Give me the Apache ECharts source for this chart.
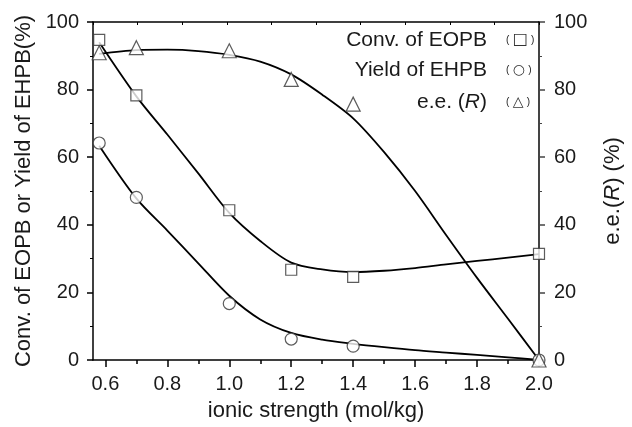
<!DOCTYPE html>
<html>
<head>
<meta charset="utf-8">
<script src="https://cdn.jsdelivr.net/npm/echarts@6/dist/echarts.min.js"></script>
<style>
  html, body { margin: 0; padding: 0; background: #fff; }
  #chart { width: 632px; height: 427px; }
</style>
</head>
<body>
<div id="chart"></div>
<script>
// measured points
const xPts = [0.58, 0.7, 1.0, 1.2, 1.4, 2.0]
const convPts = [94.7, 78.3, 44.3, 26.7, 24.6, 31.4]
const yieldPts = [64.2, 48.1, 16.7, 6.2, 4.1, 0]
const eePts = [90.9, 92.4, 91.5, 83.0, 75.7, 0]

// fitted curves
const fitX = [0.58, 0.7, 0.8, 0.9, 1.0, 1.1, 1.2, 1.3, 1.4, 1.5, 1.6, 1.7, 1.8, 1.9, 2.0]
const convFit = [94, 78, 66.7, 55.2, 43.5, 35.2, 28.8, 26.8, 26, 26.4, 27.2, 28.3, 29.3, 30.3, 31.3]
const yieldFit = [63.4, 47.8, 38.3, 28.6, 19, 12, 8, 6, 4.8, 3.8, 2.9, 2.2, 1.5, 0.8, 0]
const eeFit = [90.6, 91.7, 91.8, 91.4, 90.3, 88.3, 84.5, 78.5, 71.5, 61.5, 50, 37, 24.3, 12.2, 0]

const xLabels = [0.6, 0.8, 1.0, 1.2, 1.4, 1.6, 1.8, 2.0]
const xMinor = [0.7, 0.9, 1.1, 1.3, 1.5, 1.7, 1.9]

const font = 'Liberation Sans, Arial, Helvetica, sans-serif'
const ink = '#1a1a1a'

let pairs = (xs, ys) => xs.map((x, i) => [x, ys[i]])

let chart = echarts.init(document.getElementById('chart'))

let legendSymbol = (sym, size, top) => ({
  type: 'text', left: 506, top: top,
  style: {
    text: '{p|(} {s|' + sym + '} {p|)}',
    rich: {
      p: { fontSize: 10, fontFamily: font, fill: ink },
      s: { fontSize: size, fontFamily: 'DejaVu Sans', fill: '#333' }
    }
  }
})

let option = {
  animation: false,
  grid: { left: 93, right: 80, top: 22, bottom: 64 },
  textStyle: { fontFamily: font },
  xAxis: [
    {
      type: 'value',
      position: 'bottom',
      min: 0.56,
      max: 2.0,
      name: 'ionic strength (mol/kg)',
      nameLocation: 'middle',
      nameGap: 40,
      nameTextStyle: { fontSize: 22, color: ink, fontFamily: font },
      axisLine: { show: true, lineStyle: { color: '#000', width: 1.5 } },
      axisTick: { show: true, inside: false, length: 7, customValues: xLabels, lineStyle: { color: '#000', width: 1.5 } },
      axisLabel: {
        show: true, margin: 14, fontSize: 20, color: ink, fontFamily: font,
        customValues: xLabels,
        formatter: v => v.toFixed(1)
      },
      splitLine: { show: false }
    },
    {
      // minor ticks on the bottom axis
      type: 'value',
      position: 'bottom',
      min: 0.56,
      max: 2.0,
      axisLine: { show: false },
      axisTick: { show: true, length: 4, customValues: xMinor, lineStyle: { color: '#000', width: 1.5 } },
      axisLabel: { show: false },
      splitLine: { show: false }
    },
    {
      // top frame
      type: 'value',
      position: 'top',
      min: 0,
      max: 10,
      interval: 1,
      axisLine: { show: true, lineStyle: { color: '#000', width: 1.5 } },
      axisTick: { show: true, inside: true, length: 3, lineStyle: { color: '#000', width: 1 } },
      axisLabel: { show: false },
      splitLine: { show: false }
    }
  ],
  yAxis: [
    {
      type: 'value',
      position: 'left',
      min: 0,
      max: 100,
      interval: 20,
      name: 'Conv. of EOPB or Yield of EHPB(%)',
      nameLocation: 'middle',
      nameRotate: 90,
      nameGap: 58,
      nameTextStyle: { fontSize: 22, color: ink, fontFamily: font },
      axisLine: { show: true, lineStyle: { color: '#000', width: 1.5 } },
      axisTick: { show: true, inside: false, length: 6, lineStyle: { color: '#000', width: 1.5 } },
      minorTick: { show: true, splitNumber: 2, length: 3, lineStyle: { color: '#000', width: 1 } },
      axisLabel: { margin: 14, fontSize: 20, color: ink, fontFamily: font },
      splitLine: { show: false }
    },
    {
      type: 'value',
      position: 'right',
      min: 0,
      max: 100,
      interval: 20,
      name: '{a|e.e.(}{i|R}{a|) (%)}',
      nameLocation: 'middle',
      nameRotate: 90,
      nameGap: 63,
      nameTextStyle: {
        fontSize: 22, color: ink, fontFamily: font,
        rich: {
          a: { fontSize: 22, color: ink, fontFamily: font },
          i: { fontSize: 22, color: ink, fontFamily: font, fontStyle: 'italic' }
        }
      },
      axisLine: { show: true, lineStyle: { color: '#444', width: 2 } },
      axisTick: { show: true, inside: false, length: 6, lineStyle: { color: '#444', width: 1.5 } },
      minorTick: { show: true, splitNumber: 2, length: 3, lineStyle: { color: '#444', width: 1 } },
      axisLabel: { margin: 15, fontSize: 20, color: ink, fontFamily: font },
      splitLine: { show: false }
    }
  ],
  series: [
    {
      name: 'convFit', type: 'line', smooth: 0.3, showSymbol: false, silent: true,
      data: pairs(fitX, convFit),
      lineStyle: { color: '#000', width: 1.8 }
    },
    {
      name: 'yieldFit', type: 'line', smooth: 0.3, showSymbol: false, silent: true,
      data: pairs(fitX, yieldFit),
      lineStyle: { color: '#000', width: 1.8 }
    },
    {
      name: 'eeFit', type: 'line', smooth: 0.3, showSymbol: false, silent: true, yAxisIndex: 1,
      data: pairs(fitX, eeFit),
      lineStyle: { color: '#000', width: 1.8 }
    },
    {
      name: 'Conv. of EOPB', type: 'scatter', symbol: 'rect', symbolSize: 11, z: 3,
      data: pairs(xPts, convPts),
      itemStyle: { color: '#fff', borderColor: '#333', borderWidth: 1.2 }
    },
    {
      name: 'Yield of EHPB', type: 'scatter', symbol: 'circle', symbolSize: 12, z: 3,
      data: pairs(xPts, yieldPts),
      itemStyle: { color: '#fff', borderColor: '#333', borderWidth: 1.2 }
    },
    {
      name: 'e.e. (R)', type: 'scatter', symbol: 'triangle', symbolSize: 14, z: 3, yAxisIndex: 1,
      data: pairs(xPts, eePts),
      itemStyle: { color: '#fff', borderColor: '#333', borderWidth: 1.2 }
    }
  ],
  graphic: [
    {
      type: 'text', right: 145, top: 30,
      style: { text: 'Conv. of EOPB', font: '21px ' + font, fill: ink }
    },
    {
      type: 'text', right: 145, top: 60,
      style: { text: 'Yield of EHPB', font: '21px ' + font, fill: ink }
    },
    {
      type: 'text', right: 145, top: 92,
      style: {
        text: '{a|e.e. (}{i|R}{a|)}',
        rich: {
          a: { fontSize: 21, fontFamily: font, fill: ink },
          i: { fontSize: 21, fontFamily: font, fill: ink, fontStyle: 'italic' }
        }
      }
    },
    legendSymbol('□', 16, 32),
    legendSymbol('○', 14, 63),
    legendSymbol('△', 14, 95)
  ]
}

chart.setOption(option)
</script>
</body>
</html>
